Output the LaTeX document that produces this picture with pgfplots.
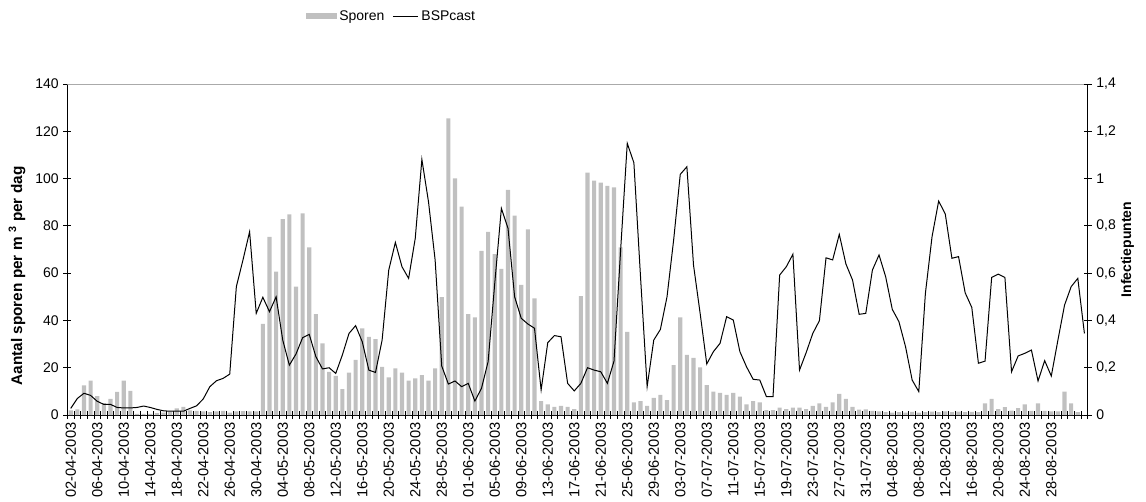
\documentclass[border=0pt]{standalone}
\usepackage{pgfplots}
\pgfplotsset{compat=1.18}
\usepackage{pgfplotstable}
\usepackage{fontspec}
\setmainfont{Liberation Sans}
\definecolor{barfill}{RGB}{192,192,192}
\definecolor{topline}{RGB}{170,170,170}

\pgfplotstableread{
i s b
0 2 0.028
1 2.4 0.07
2 12.5 0.092
3 14.5 0.083
4 8 0.058
5 5 0.045
6 6.8 0.045
7 9.8 0.032
8 14.5 0.03
9 10.2 0.03
10 0.5 0.032
11 0.5 0.038
12 0.5 0.032
13 0.8 0.024
14 1 0.018
15 1.4 0.016
16 2.8 0.016
17 3.4 0.016
18 2 0.028
19 1.8 0.039
20 1.5 0.068
21 1.2 0.12
22 1.5 0.145
23 1.8 0.155
24 1 0.173
25 1.5 0.543
26 1.6 0.656
27 1.5 0.775
28 1.5 0.43
29 38.5 0.498
30 75.4 0.437
31 60.6 0.5
32 82.9 0.317
33 84.9 0.211
34 54.3 0.258
35 85.3 0.327
36 70.9 0.341
37 42.7 0.247
38 30.3 0.195
39 18.3 0.2
40 16.6 0.176
41 11 0.254
42 17.9 0.345
43 23.3 0.378
44 36.7 0.31
45 33.1 0.19
46 32.1 0.18
47 20.4 0.317
48 15.9 0.613
49 19.7 0.73
50 17.9 0.627
51 14.5 0.578
52 15.5 0.747
53 16.9 1.081
54 14.5 0.902
55 19.7 0.656
56 49.9 0.207
57 125.5 0.131
58 100.1 0.144
59 88.1 0.12
60 42.7 0.134
61 41.3 0.059
62 69.4 0.113
63 77.5 0.226
64 68.1 0.557
65 61.8 0.874
66 95.2 0.79
67 84.3 0.5
68 55 0.409
69 78.5 0.385
70 49.3 0.367
71 5.9 0.106
72 4.5 0.306
73 3.5 0.336
74 3.9 0.331
75 3.5 0.134
76 2.5 0.102
77 50.3 0.134
78 102.5 0.2
79 99.1 0.19
80 98.3 0.183
81 96.9 0.134
82 96.3 0.228
83 70.9 0.698
84 35.2 1.149
85 5.4 1.067
86 5.9 0.585
87 3.9 0.12
88 7.3 0.317
89 8.5 0.362
90 6.3 0.5
91 21.1 0.74
92 41.3 1.018
93 25.4 1.05
94 24.2 0.634
95 20.2 0.43
96 12.7 0.216
97 9.9 0.268
98 9.4 0.303
99 8.5 0.416
100 9.4 0.402
101 7.8 0.268
102 4.5 0.204
103 5.9 0.151
104 5.4 0.148
105 2.1 0.078
106 2.1 0.078
107 3.1 0.592
108 2.5 0.627
109 3.1 0.68
110 3.1 0.19
111 2.5 0.264
112 3.9 0.345
113 4.9 0.399
114 3.5 0.665
115 5.4 0.656
116 8.9 0.764
117 6.8 0.639
118 3.5 0.571
119 2.3 0.426
120 2.4 0.43
121 1.8 0.613
122 1.5 0.677
123 1.2 0.585
124 1 0.447
125 1.2 0.395
126 1 0.289
127 1.3 0.148
128 1 0.099
129 1.2 0.515
130 1.4 0.754
131 1.2 0.905
132 1.5 0.85
133 1.2 0.663
134 1.4 0.67
135 1.2 0.517
136 1.3 0.455
137 1.2 0.219
138 4.9 0.228
139 6.8 0.582
140 2.5 0.596
141 3.3 0.582
142 1.9 0.183
143 2.9 0.25
144 4.5 0.261
145 1.8 0.275
146 4.9 0.144
147 1.8 0.23
148 1.5 0.165
149 1.5 0.317
150 9.9 0.465
151 4.9 0.543
152 1.2 0.578
153 0 0.345
}\data

\begin{document}
\begin{tikzpicture}
\pgfplotsset{
  every axis/.append style={
    scale only axis, width=765.2pt, height=248.25pt,
    xmin=-0.5, xmax=153.5,
    font=\fontsize{10.5}{12}\selectfont,
    /pgf/number format/assume math mode=true,
    tick align=center,
    major tick length=6pt,
    tick style={black, line width=0.6pt},
    axis line style={black, line width=0.75pt},
  }
}
\begin{axis}[
  axis x line*=bottom, axis y line*=left,
  ymin=0, ymax=140, ytick={0,20,40,60,80,100,120,140},
  yticklabels={0,20,40,60,80,100,120,140},
  xtick={-0.5,0.5,...,153.5},
  xticklabel=\empty,
  extra x ticks={0,4,...,148},
  extra x tick labels={02-04-2003,06-04-2003,10-04-2003,14-04-2003,18-04-2003,22-04-2003,26-04-2003,30-04-2003,04-05-2003,08-05-2003,12-05-2003,16-05-2003,20-05-2003,24-05-2003,28-05-2003,01-06-2003,05-06-2003,09-06-2003,13-06-2003,17-06-2003,21-06-2003,25-06-2003,29-06-2003,03-07-2003,07-07-2003,11-07-2003,15-07-2003,19-07-2003,23-07-2003,27-07-2003,31-07-2003,04-08-2003,08-08-2003,12-08-2003,16-08-2003,20-08-2003,24-08-2003,28-08-2003},
  extra x tick style={major tick length=0pt, tick label style={rotate=90, anchor=east, inner xsep=5.5pt, font=\fontsize{11}{12}\selectfont}},
  ylabel={\bfseries Aantal sporen per m \textsuperscript{3} per dag},
  ylabel style={at={(axis description cs:-0.0494,0.42)}, rotate=0, anchor=center, font=\fontsize{11.5}{13}\selectfont},
  legend style={at={(axis description cs:0.318,1.205)}, anchor=center, draw=none, fill=none,
    legend columns=2, font=\fontsize{10.5}{12}\selectfont,
    /tikz/every even column/.append style={column sep=4pt}},
  legend cell align=left,
]
\addplot[ybar, bar width=0.62, bar shift=0pt, fill=barfill, draw=none,
  legend image code/.code={\fill[barfill] (0pt,-2pt) rectangle (23pt,2pt);}]
  table[x=i,y=s]{\data};
\addlegendentry{Sporen}
\addlegendimage{black, line width=0.75pt, legend image code/.code={\draw[black,line width=0.75pt] (0pt,0pt) -- (19pt,0pt);}}
\addlegendentry{BSPcast}
\draw[topline, line width=0.75pt] (rel axis cs:0,1) -- (rel axis cs:1,1);
\coordinate (SW) at (rel axis cs:0,0);
\coordinate (NE) at (rel axis cs:1,1);
\end{axis}
\begin{axis}[
  axis x line=none, axis y line*=right,
  ymin=0, ymax=1.4, ytick={0,0.2,0.4,0.6,0.8,1,1.2,1.4},
  yticklabels={0,{0,2},{0,4},{0,6},{0,8},1,{1,2},{1,4}},
  ylabel={\bfseries Infectiepunten},
  ylabel style={at={(axis description cs:1.039,0.5)}, rotate=0, anchor=center},
]
\addplot[black, line width=0.75pt, mark=none] table[x=i,y=b]{\data};
\end{axis}
\pgfresetboundingbox
\path[use as bounding box] ([xshift=-50.55pt,yshift=-64.5pt]SW) rectangle ([xshift=43.7pt,yshift=63pt]NE);
\end{tikzpicture}
\end{document}
